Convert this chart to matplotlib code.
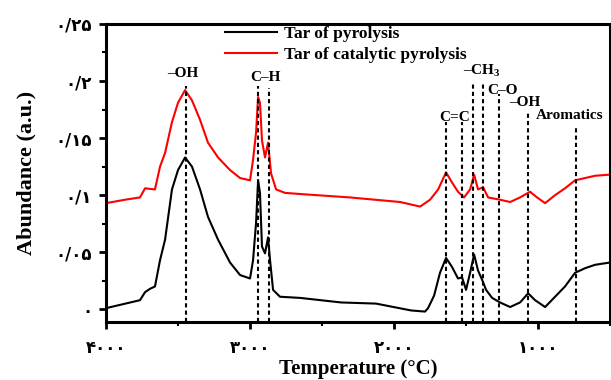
import matplotlib.pyplot as plt
from matplotlib.ticker import FixedLocator, MultipleLocator

plt.rcParams['mathtext.fontset'] = 'custom'
plt.rcParams['mathtext.bf'] = 'Liberation Serif:bold'

# wavenumber (cm-1) and abundance
wn_pyro = [4000, 3764, 3729, 3694, 3660, 3625, 3590, 3542, 3500, 3451, 3403, 3347, 3292,
           3222, 3139, 3069, 3000, 2979, 2958, 2944, 2931, 2917, 2896, 2875, 2861, 2840,
           2792, 2653, 2368, 2125, 1882, 1785, 1764, 1722, 1681, 1639, 1597, 1556, 1528,
           1500, 1472, 1444, 1417, 1389, 1361, 1319, 1264, 1194, 1125, 1069, 1021, 951,
           882, 813, 743, 674, 604, 500]
ab_pyro = [0.001, 0.008, 0.015, 0.018, 0.020, 0.043, 0.061, 0.105, 0.122, 0.133, 0.125, 0.105,
           0.081, 0.061, 0.041, 0.030, 0.027, 0.043, 0.076, 0.113, 0.102, 0.055, 0.049, 0.063,
           0.043, 0.017, 0.011, 0.010, 0.006, 0.005, -0.001, -0.002, 0.001, 0.012, 0.032,
           0.045, 0.037, 0.027, 0.028, 0.017, 0.032, 0.048, 0.034, 0.026, 0.017, 0.010,
           0.006, 0.002, 0.006, 0.014, 0.008, 0.002, 0.011, 0.020, 0.032, 0.036, 0.039, 0.041]

wn_cat = [4000, 3868, 3764, 3729, 3660, 3625, 3590, 3542, 3500, 3451, 3403, 3347, 3292,
          3222, 3139, 3069, 3000, 2979, 2958, 2944, 2931, 2917, 2896, 2875, 2854, 2819,
          2757, 2653, 2306, 1958, 1819, 1750, 1694, 1639, 1597, 1556, 1514, 1472, 1444,
          1417, 1382, 1347, 1264, 1194, 1125, 1056, 1007, 951, 882, 813, 743, 674, 604, 500]
ab_cat = [0.093, 0.096, 0.098, 0.106, 0.105, 0.125, 0.137, 0.164, 0.181, 0.192, 0.183, 0.166,
          0.146, 0.133, 0.122, 0.115, 0.113, 0.131, 0.155, 0.186, 0.181, 0.148, 0.133, 0.146,
          0.119, 0.105, 0.102, 0.101, 0.098, 0.094, 0.090, 0.096, 0.105, 0.120, 0.111, 0.103,
          0.098, 0.105, 0.118, 0.105, 0.107, 0.098, 0.096, 0.094, 0.098, 0.103, 0.098, 0.093,
          0.100, 0.106, 0.113, 0.115, 0.117, 0.118]

# band markers: position, top of dotted line
band_pos = [3444, 2944, 2868, 1639, 1528, 1451, 1382, 1271, 1069, 736]
band_top = [0.196, 0.196, 0.194, 0.164, 0.164, 0.199, 0.199, 0.189, 0.173, 0.161]

band_labels = ['\u2013OH', 'C\u2013H', 'C=C', '\u2013CH$_{\\mathbf{3}}$', 'C\u2013O', '\u2013OH', 'Aromatics']
label_x = [3465, 2896, 1576, 1389, 1250, 1090, 778]
label_y = [0.207, 0.203, 0.168, 0.209, 0.192, 0.181, 0.170]

xticks = [4000, 3000, 2000, 1000]
xtick_labels = ['۴۰۰۰', '۳۰۰۰', '۲۰۰۰', '۱۰۰۰']
yticks = [0, 0.05, 0.1, 0.15, 0.2, 0.25]
ytick_labels = ['۰', '۰/۰۵', '۰/۱', '۰/۱۵', '۰/۲', '۰/۲۵']

serif = ['Liberation Serif', 'DejaVu Serif']
digits = ['DejaVu Sans', 'Liberation Serif']

fig = plt.figure(figsize=(6.11, 3.80), dpi=100)
ax = fig.add_axes([0.1735, 0.153, 0.8250, 0.784])

ax.plot(wn_pyro, ab_pyro, color='black', lw=1.5, label='Tar of pyrolysis')
ax.plot(wn_cat, ab_cat, color='red', lw=1.5, label='Tar of catalytic pyrolysis')

ymin = -0.011
for x, top in zip(band_pos, band_top):
    ax.plot([x, x], [ymin, top], color='black', lw=1.5, ls=(0, (2, 1.5)))

for t, x, y in zip(band_labels, label_x, label_y):
    ax.text(x, y, t, ha='center', va='center', fontsize=11, fontweight='bold',
            family=serif)

ax.set_xlim(4000, 500)
ax.set_ylim(ymin, 0.25)
ax.xaxis.set_major_locator(FixedLocator(xticks))
ax.set_xticklabels(xtick_labels, family=digits, fontweight='bold', fontsize=12)
ax.xaxis.set_minor_locator(MultipleLocator(500))
ax.yaxis.set_major_locator(FixedLocator(yticks))
ax.set_yticklabels(ytick_labels, family=digits, fontweight='bold', fontsize=12)
ax.yaxis.set_minor_locator(MultipleLocator(0.025))
ax.tick_params(which='major', direction='out', length=5, width=2)
ax.tick_params(which='minor', direction='out', length=3, width=1.5)
ax.tick_params(axis='x', pad=7)
ax.tick_params(axis='y', pad=5)
for s in ax.spines.values():
    s.set_linewidth(2.2)

ax.set_xlabel('Temperature (°C)', family=serif, fontweight='bold', fontsize=15, labelpad=2)
ax.set_ylabel('Abundance (a.u.)', family=serif, fontweight='bold', fontsize=16, labelpad=14)

leg = ax.legend(loc='upper left', bbox_to_anchor=(0.205, 1.045), frameon=False,
                handlelength=3.0, handletextpad=0.4, labelspacing=0.25,
                prop={'family': serif, 'weight': 'bold', 'size': 12.5})

fig.savefig('out.png', dpi=100)
